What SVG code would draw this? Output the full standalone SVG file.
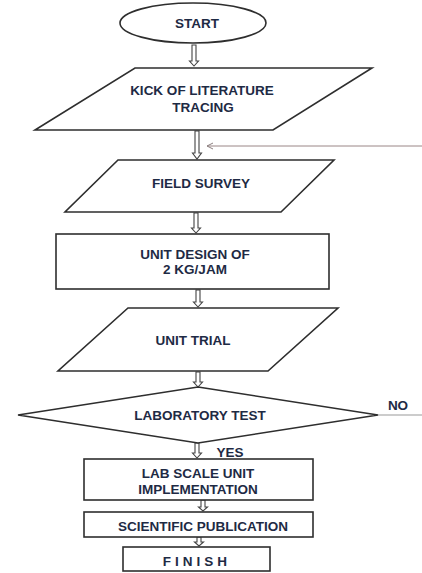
<svg xmlns="http://www.w3.org/2000/svg" width="422" height="573" viewBox="0 0 422 573">
<defs>
<marker id="openhead" markerWidth="8" markerHeight="8" refX="7" refY="4" orient="auto" markerUnits="userSpaceOnUse">
<path d="M1,1 L7,4 L1,7" fill="none" stroke="#8c8080" stroke-width="1"/>
</marker>
</defs>
<style>
.shape{fill:#fff;stroke:#2e2e2e;stroke-width:1.6}
.t{font-family:"Liberation Sans",Arial,sans-serif;font-weight:bold;font-size:13.5px;fill:#1e2a44;text-anchor:middle}
.arr{fill:#fff;stroke:#444;stroke-width:1.1}
</style>
<rect width="422" height="573" fill="#fff"/>
<g id="connectors">
<path class="arr" d="M192,45 L196,45 L196,61 L198.5,61 L194,66 L189.5,61 L192,61 Z"/>
<path class="arr" d="M195,131 L199,131 L199,153 L201.5,153 L197,159 L192.5,153 L195,153 Z"/>
<path class="arr" d="M194,213 L198,213 L198,228 L200.5,228 L196,233 L191.5,228 L194,228 Z"/>
<path class="arr" d="M196,290 L200,290 L200,302 L202.5,302 L198,307 L193.5,302 L196,302 Z"/>
<path class="arr" d="M196,372 L200,372 L200,382 L202.5,382 L198,387 L193.5,382 L196,382 Z"/>
<path class="arr" d="M195,443 L199,443 L199,453 L201.5,453 L197,458 L192.5,453 L195,453 Z"/>
<path class="arr" d="M201,500 L205,500 L205,507 L207.5,507 L203,511 L198.5,507 L201,507 Z"/>
<path class="arr" d="M197,537 L201,537 L201,542 L203.5,542 L199,546 L194.5,542 L197,542 Z"/>
<line x1="422" y1="146" x2="207" y2="146" stroke="#9a8686" stroke-width="1" marker-end="url(#openhead)"/>
<line x1="378" y1="415" x2="422" y2="415" stroke="#9a9a9a" stroke-width="1.2"/>
<text class="t" x="398" y="410">NO</text>
<text class="t" x="230" y="457">YES</text>
</g>
<g id="start">
<ellipse class="shape" cx="193" cy="23" rx="73" ry="20"/>
<text class="t" x="197" y="28">START</text>
</g>
<g id="kick">
<polygon class="shape" points="135,68 372,68 273,130 35,130"/>
<text class="t" x="202" y="95">KICK OF LITERATURE</text>
<text class="t" x="203" y="112">TRACING</text>
</g>
<g id="field">
<polygon class="shape" points="118,160 334,160 281,212 65,212"/>
<text class="t" x="201" y="188">FIELD SURVEY</text>
</g>
<g id="design">
<rect class="shape" x="56" y="234" width="273" height="55"/>
<text class="t" x="195" y="259">UNIT DESIGN OF</text>
<text class="t" x="195" y="274">2 KG/JAM</text>
</g>
<g id="trial">
<polygon class="shape" points="128,308 338,308 268,371 58,371"/>
<text class="t" x="193" y="345">UNIT TRIAL</text>
</g>
<g id="labtest">
<polygon class="shape" points="198,387 378,415 198,443 18,415"/>
<text class="t" x="200" y="420">LABORATORY TEST</text>
</g>
<g id="labscale">
<rect class="shape" x="84" y="459" width="229" height="41"/>
<text class="t" x="198" y="478">LAB SCALE UNIT</text>
<text class="t" x="198" y="494">IMPLEMENTATION</text>
</g>
<g id="publication">
<rect class="shape" x="84" y="512" width="229" height="25"/>
<text class="t" x="203" y="531">SCIENTIFIC PUBLICATION</text>
</g>
<g id="finish">
<rect class="shape" x="123" y="547" width="147" height="24"/>
<text class="t" x="197" y="566" letter-spacing="4">FINISH</text>
</g>
</svg>
